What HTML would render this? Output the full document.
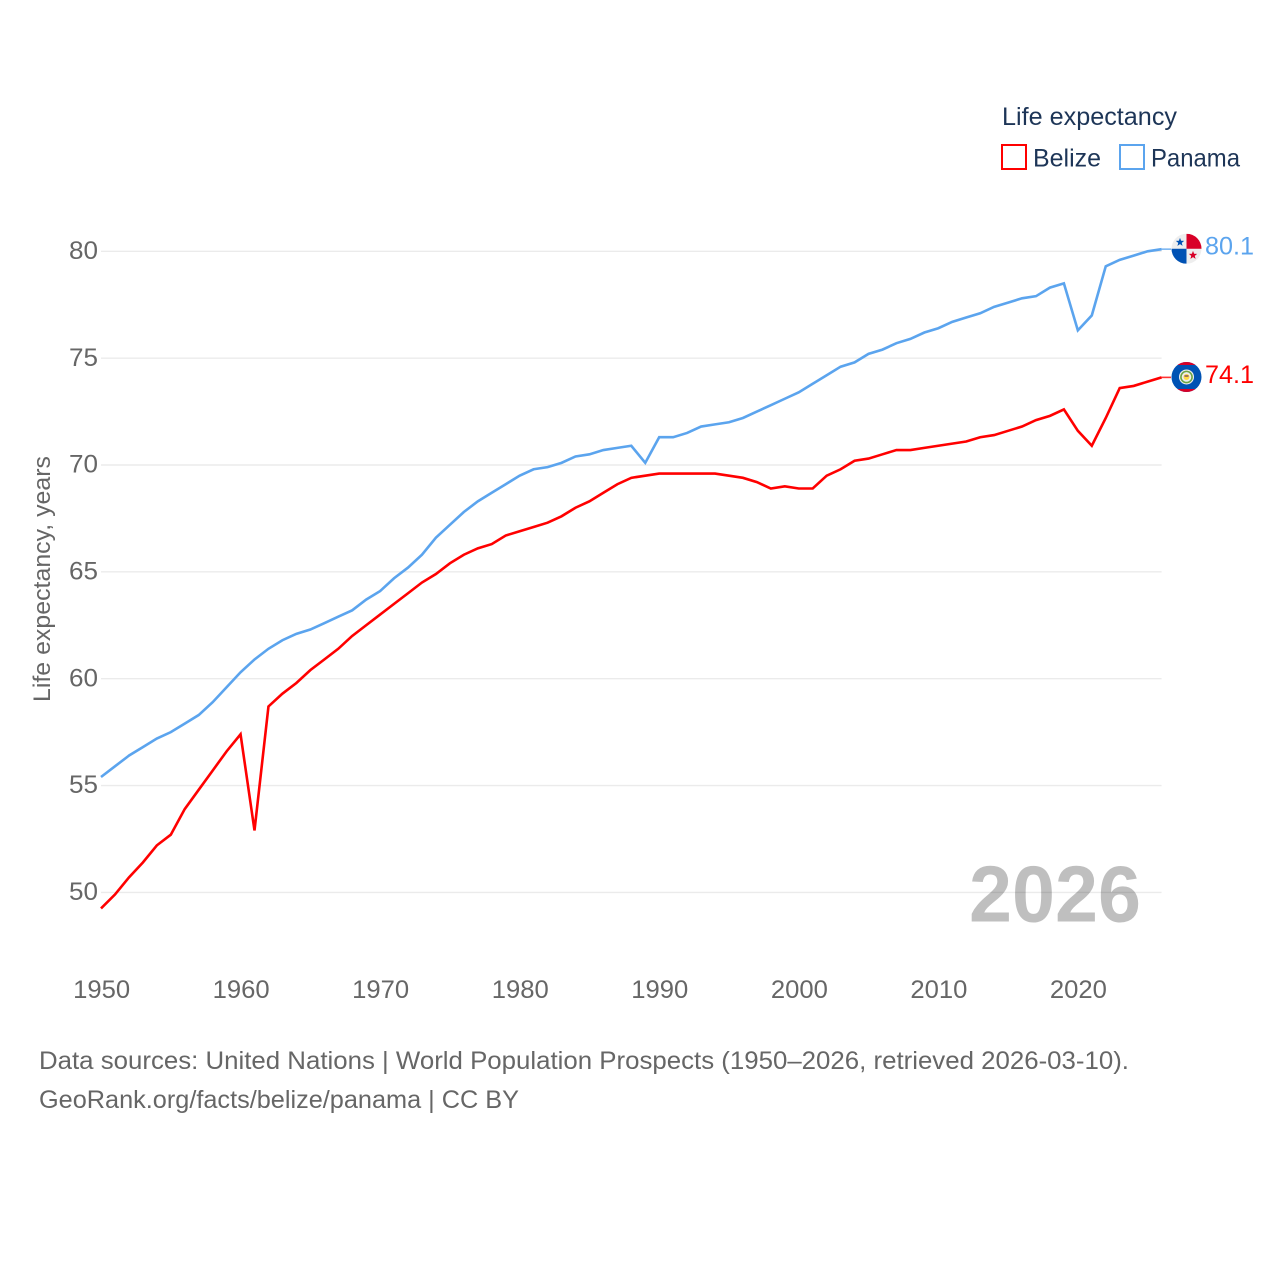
<!DOCTYPE html>
<html lang="en">
<head>
<meta charset="utf-8">
<title>Life expectancy: Belize and Panama</title>
<style>
html,body{margin:0;padding:0;background:#fff;width:1280px;height:1280px;overflow:hidden}
svg{display:block;font-family:"Liberation Sans",sans-serif}
</style>
</head>
<body>
<svg id="chart" xmlns="http://www.w3.org/2000/svg" width="1280" height="1280" viewBox="0 0 1280 1280">
  <defs>
    <clipPath id="flag-clip"><circle cx="0" cy="0" r="15"/></clipPath>
  </defs>
  <g id="grid"></g>
  <g id="y-ticks"></g>
  <g id="x-ticks"></g>
  <text transform="translate(50,702) rotate(-90)" font-size="24.5" fill="#666" textLength="246" lengthAdjust="spacingAndGlyphs">Life expectancy, years</text>
  <text id="year-label" x="969" y="921.5" font-size="80" font-weight="700" fill="#000" fill-opacity="0.25" textLength="172" lengthAdjust="spacingAndGlyphs">2026</text>
  <g id="series"></g>
  <g id="end-labels"></g>

  <g>
    <text x="1002" y="125" font-size="25" fill="#1d3557" textLength="175" lengthAdjust="spacingAndGlyphs">Life expectancy</text>
    <rect x="1002" y="145" width="24" height="24" fill="#fff" stroke="#ff0000" stroke-width="2"/>
    <text x="1033" y="166.5" font-size="25" fill="#1d3557" textLength="68" lengthAdjust="spacingAndGlyphs">Belize</text>
    <rect x="1120" y="145" width="24" height="24" fill="#fff" stroke="#5ba4ee" stroke-width="2"/>
    <text x="1151" y="166.5" font-size="25" fill="#1d3557" textLength="89" lengthAdjust="spacingAndGlyphs">Panama</text>
  </g>

  <g>
    <text x="39" y="1069" font-size="25" fill="#666" textLength="1090" lengthAdjust="spacingAndGlyphs">Data sources: United Nations | World Population Prospects (1950–2026, retrieved 2026-03-10).</text>
    <text x="39" y="1108" font-size="25" fill="#666" textLength="480" lengthAdjust="spacingAndGlyphs">GeoRank.org/facts/belize/panama | CC BY</text>
  </g>
</svg>
<script>
const startYear = 1950;
const yTickLabels = [50, 55, 60, 65, 70, 75, 80];
const xTickLabels = [1950, 1960, 1970, 1980, 1990, 2000, 2010, 2020];
const belizeValues = [
  49.25, 49.9, 50.7, 51.4, 52.2, 52.7, 53.9, 54.8, 55.7, 56.6,
  57.4, 52.9, 58.7, 59.3, 59.8, 60.4, 60.9, 61.4, 62.0, 62.5,
  63.0, 63.5, 64.0, 64.5, 64.9, 65.4, 65.8, 66.1, 66.3, 66.7,
  66.9, 67.1, 67.3, 67.6, 68.0, 68.3, 68.7, 69.1, 69.4, 69.5,
  69.6, 69.6, 69.6, 69.6, 69.6, 69.5, 69.4, 69.2, 68.9, 69.0,
  68.9, 68.9, 69.5, 69.8, 70.2, 70.3, 70.5, 70.7, 70.7, 70.8,
  70.9, 71.0, 71.1, 71.3, 71.4, 71.6, 71.8, 72.1, 72.3, 72.6,
  71.6, 70.9, 72.2, 73.6, 73.7, 73.9, 74.1
];
const panamaValues = [
  55.4, 55.9, 56.4, 56.8, 57.2, 57.5, 57.9, 58.3, 58.9, 59.6,
  60.3, 60.9, 61.4, 61.8, 62.1, 62.3, 62.6, 62.9, 63.2, 63.7,
  64.1, 64.7, 65.2, 65.8, 66.6, 67.2, 67.8, 68.3, 68.7, 69.1,
  69.5, 69.8, 69.9, 70.1, 70.4, 70.5, 70.7, 70.8, 70.9, 70.1,
  71.3, 71.3, 71.5, 71.8, 71.9, 72.0, 72.2, 72.5, 72.8, 73.1,
  73.4, 73.8, 74.2, 74.6, 74.8, 75.2, 75.4, 75.7, 75.9, 76.2,
  76.4, 76.7, 76.9, 77.1, 77.4, 77.6, 77.8, 77.9, 78.3, 78.5,
  76.3, 77.0, 79.3, 79.6, 79.8, 80.0, 80.1
];

const NS = 'http://www.w3.org/2000/svg';
function xScale(year) { return 101 + (year - 1950) * 13.955; }
function yScale(v) { return 892.4 - (v - 50) * 21.37; }
function make(tag, attrs, parent) {
  const el = document.createElementNS(NS, tag);
  for (const k in attrs) el.setAttribute(k, attrs[k]);
  parent.appendChild(el);
  return el;
}
const plotLeft = xScale(1950);
const plotRight = xScale(startYear + belizeValues.length - 1);

const gridG = document.getElementById('grid');
const yG = document.getElementById('y-ticks');
yTickLabels.forEach(function (v) {
  const line = make('line', {x1: plotLeft, x2: plotRight, y1: yScale(v), y2: yScale(v), stroke: '#ebebeb', 'stroke-width': 1.4}, gridG);
  
  
  const t = make('text', {x: 69, y: yScale(v) + 7.6, 'font-size': 25, fill: '#666', textLength: 29, lengthAdjust: 'spacingAndGlyphs'}, yG);
  
  
  t.textContent = v;
});

const xG = document.getElementById('x-ticks');
xTickLabels.forEach(function (yr) {
  const t = make('text', {x: xScale(yr) + 0.6, y: 998, 'text-anchor': 'middle', 'font-size': 25, fill: '#666', textLength: 57, lengthAdjust: 'spacingAndGlyphs'}, xG);
  
  
  t.textContent = yr;
});

function linePoints(values) {
  return values.map(function (v, i) {
    return xScale(startYear + i).toFixed(2) + ',' + yScale(v).toFixed(2);
  }).join(' ');
}
const seriesG = document.getElementById('series');
const labelsG = document.getElementById('end-labels');

const panamaLine = make('polyline', {points: linePoints(panamaValues), fill: 'none', stroke: '#5ba4ee', 'stroke-width': 2.6, 'stroke-linejoin': 'miter'}, seriesG);


const belizeLine = make('polyline', {points: linePoints(belizeValues), fill: 'none', stroke: '#ff0000', 'stroke-width': 2.6, 'stroke-linejoin': 'miter'}, seriesG);



function star(cx, cy, r, fill, parent) {
  let pts = [];
  for (let i = 0; i < 10; i++) {
    const rad = i % 2 ? r * 0.42 : r;
    const a = -Math.PI / 2 + i * Math.PI / 5;
    pts.push((cx + rad * Math.cos(a)).toFixed(2) + ',' + (cy + rad * Math.sin(a)).toFixed(2));
  }
  return make('polygon', {points: pts.join(' '), fill: fill}, parent);
}

function endCap(values, color) {
  const last = values[values.length - 1];
  const y = yScale(last);
  const conn = make('line', {x1: plotRight, x2: 1171, y1: y, y2: y, stroke: color, 'stroke-width': 1.6, 'stroke-opacity': 0.8}, labelsG);
  
  
  const t = make('text', {x: 1205, y: y + 5.4, 'font-size': 25, fill: color, textLength: 49, lengthAdjust: 'spacingAndGlyphs'}, labelsG);
  
  
  t.textContent = last.toFixed(1);
  const g = make('g', {transform: 'translate(1186.5,' + (y - 0.4).toFixed(2) + ')', 'clip-path': 'url(#flag-clip)'}, labelsG);
  return g;
}

const panamaFlag = endCap(panamaValues, '#5ba4ee');


make('rect', {x: -15, y: -15, width: 30, height: 30, fill: '#eeeeee'}, panamaFlag);
make('rect', {x: 0, y: -15, width: 15, height: 15, fill: '#d80027'}, panamaFlag);
make('rect', {x: -15, y: 0, width: 15, height: 15, fill: '#0052b4'}, panamaFlag);
star(-6.5, -6.5, 4.4, '#0052b4', panamaFlag);
star(6.5, 6.5, 4.4, '#d80027', panamaFlag);

const belizeFlag = endCap(belizeValues, '#ff0000');


make('rect', {x: -15, y: -15, width: 30, height: 30, fill: '#0052b4'}, belizeFlag);
make('rect', {x: -15, y: -15, width: 30, height: 3, fill: '#d80027'}, belizeFlag);
make('rect', {x: -15, y: 12, width: 30, height: 3, fill: '#d80027'}, belizeFlag);
make('circle', {cx: 0, cy: 0, r: 7.5, fill: '#eeeeee'}, belizeFlag);
make('circle', {cx: 0, cy: 0, r: 5.6, fill: 'none', stroke: '#6da544', 'stroke-width': 1.6}, belizeFlag);
make('circle', {cx: 0, cy: 0, r: 3, fill: '#ffda44'}, belizeFlag);
make('rect', {x: -2, y: -2, width: 4, height: 2, fill: '#a2745a'}, belizeFlag);
</script>
</body>
</html>
